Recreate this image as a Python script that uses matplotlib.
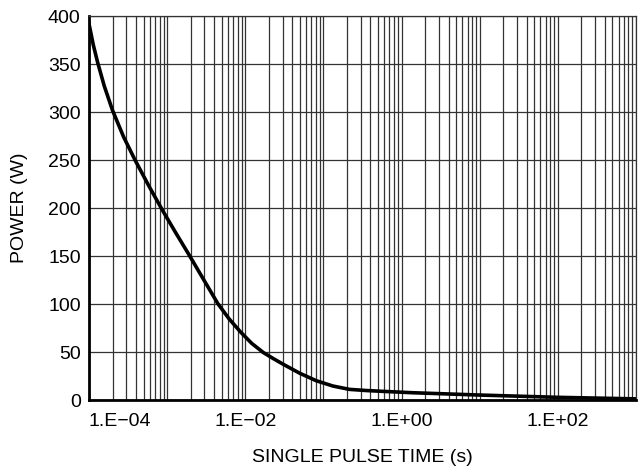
import matplotlib.pyplot as plt
import matplotlib.ticker as ticker

plt.rcParams['font.family'] = ['Liberation Sans', 'DejaVu Sans']

# single pulse time (s) and peak power (W)
pulse_time = [1e-4, 1.135e-4, 1.29e-4, 1.57e-4, 2.0e-4, 2.77e-4, 3.9e-4, 5.9e-4,
              8.7e-4, 1.3e-3, 1.9e-3, 2.62e-3, 4.45e-3, 6.2e-3, 8.7e-3, 1.21e-2,
              1.7e-2, 2.3e-2, 3.1e-2, 4.95e-2, 8.1e-2, 0.132, 0.215, 0.352,
              0.52, 1.38, 9.8, 100, 1000]
power = [392, 370, 351.7, 327, 301.8, 274.2, 249.7, 222.3,
         197.8, 173.7, 151.5, 132.2, 100.5, 84.6, 70.9, 59,
         49.5, 43, 37, 28, 20.1, 14.6, 11.1, 9.9,
         9.2, 7.6, 5.2, 2.8, 1.2]

x_ticks = [1e-4, 1e-2, 1e0, 1e2]
x_tick_labels = ['1.E\u221204', '1.E\u221202', '1.E+00', '1.E+02']
y_ticks = [0, 50, 100, 150, 200, 250, 300, 350, 400]

fig = plt.figure(figsize=(6.42, 4.71), dpi=100)
ax = fig.add_axes([0.1386, 0.1507, 0.852, 0.8153])

ax.plot(pulse_time, power, color='black', linewidth=2.6, solid_joinstyle='round', zorder=3)

ax.set_xscale('log')
ax.set_xlim(1e-4, 1e3)
ax.set_ylim(0, 400)

ax.xaxis.set_major_locator(ticker.FixedLocator(x_ticks))
ax.xaxis.set_major_formatter(ticker.FixedFormatter(x_tick_labels))
ax.xaxis.set_minor_locator(ticker.LogLocator(base=10, subs=range(1, 10), numticks=20))
ax.xaxis.set_minor_formatter(ticker.NullFormatter())
ax.set_yticks(y_ticks)

ax.grid(True, which='both', axis='x', color='#333333', linewidth=0.9)
ax.grid(True, which='major', axis='y', color='#333333', linewidth=0.9)
ax.tick_params(which='both', length=0, labelsize=14, colors='black')
ax.tick_params(axis='x', pad=9)
ax.tick_params(axis='y', pad=6)

labels = ax.get_xticklabels()
labels[0].set_horizontalalignment('left')

for side in ['left', 'bottom']:
    ax.spines[side].set_linewidth(2.0)
for side in ['top', 'right']:
    ax.spines[side].set_linewidth(0.9)
    ax.spines[side].set_color('#333333')

ax.set_xlabel('SINGLE PULSE TIME (s)', fontsize=14, labelpad=14)
ax.set_ylabel('POWER (W)', fontsize=14, labelpad=14)

fig.savefig('out.png', dpi=100)
